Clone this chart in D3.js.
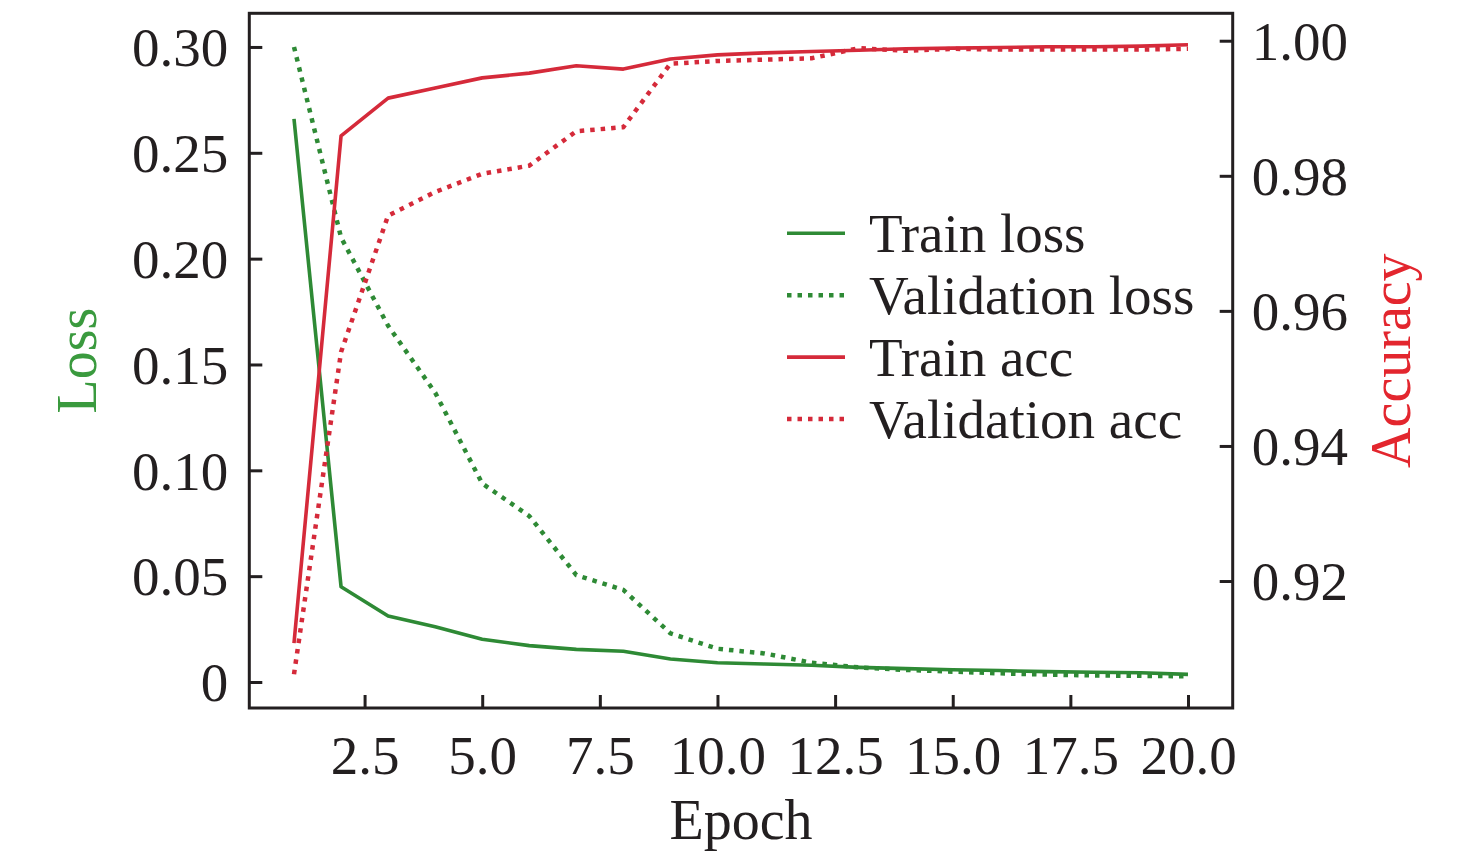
<!DOCTYPE html>
<html>
<head>
<meta charset="utf-8">
<script src="https://cdn.jsdelivr.net/npm/d3@7"></script>
<style>
  html, body { margin: 0; padding: 0; background: #ffffff; }
  svg { display: block; }
  text { font-family: "Liberation Serif", "Times New Roman", serif; fill: #231f20; }
</style>
</head>
<body>
<svg id="chart" width="1476" height="857"></svg>
<script>
// ---- data ----
const epochs = [1, 2, 3, 4, 5, 6, 7, 8, 9, 10, 11, 12, 13, 14, 15, 16, 17, 18, 19, 20];
const trainLoss = [0.266, 0.045, 0.0312, 0.0261, 0.0202, 0.0172, 0.0154, 0.0145, 0.0109, 0.0091,
                   0.0085, 0.0079, 0.0069, 0.0063, 0.0058, 0.0054, 0.0049, 0.0046, 0.0044, 0.0036];
const valLoss = [0.300, 0.210, 0.1683, 0.1367, 0.0938, 0.0784, 0.0505, 0.0435, 0.0230, 0.0157,
                 0.0135, 0.0091, 0.0069, 0.0057, 0.0049, 0.0041, 0.0035, 0.0031, 0.0029, 0.0027];
const trainAcc = [0.9108, 0.9859, 0.9915, 0.9930, 0.9945, 0.9952, 0.9963, 0.9958, 0.9973, 0.9979,
                  0.9982, 0.9984, 0.9986, 0.9988, 0.9989, 0.9990, 0.9991, 0.9991, 0.9992, 0.9994];
const valAcc = [0.9062, 0.9539, 0.9741, 0.9776, 0.9803, 0.9815, 0.9866, 0.9872, 0.9966, 0.9970,
                0.9972, 0.9974, 0.9989, 0.9985, 0.9988, 0.9987, 0.9987, 0.9987, 0.9987, 0.9988];
const xTicks = [2.5, 5.0, 7.5, 10.0, 12.5, 15.0, 17.5, 20.0];
const lossTicks = [0, 0.05, 0.10, 0.15, 0.20, 0.25, 0.30];
const accTicks = [0.92, 0.94, 0.96, 0.98, 1.00];
const legendLabels = ["Train loss", "Validation loss", "Train acc", "Validation acc"];

// ---- layout ----
const GREEN = "#2e8a35";
const RED = "#d52a3a";
const INK = "#231f20";
const box = { left: 249.3, right: 1232.7, top: 13.3, bottom: 708 };
const FS = 55;
const DOTS = "4.5,6";

const svg = d3.select("#chart");

const x = d3.scaleLinear().domain([0.05, 20.95]).range([box.left, box.right]);
const yL = d3.scaleLinear().domain([-0.01228, 0.3159]).range([box.bottom, box.top]);
const yR = d3.scaleLinear().domain([0.90120, 1.00406]).range([box.bottom, box.top]);

// lines
const lossLine = d3.line().x((d, i) => x(epochs[i])).y(d => yL(d));
const accLine = d3.line().x((d, i) => x(epochs[i])).y(d => yR(d));

const plot = svg.append("g");
const series = [
  { data: trainLoss, gen: lossLine, color: GREEN, dash: null },
  { data: valLoss, gen: lossLine, color: GREEN, dash: DOTS },
  { data: trainAcc, gen: accLine, color: RED, dash: null },
  { data: valAcc, gen: accLine, color: RED, dash: DOTS }
];
series.forEach(s => {
  plot.append("path")
    .attr("d", s.gen(s.data))
    .attr("fill", "none")
    .attr("stroke", s.color)
    .attr("stroke-width", s.dash ? 4.5 : 3.6)
    .attr("stroke-dasharray", s.dash)
    .attr("stroke-linejoin", "round");
});

// axes
const bottomAxis = d3.axisBottom(x).tickValues(xTicks).tickSize(-13).tickPadding(27)
  .tickFormat(d3.format(".1f"));
const leftAxis = d3.axisLeft(yL).tickValues(lossTicks).tickSize(-13).tickPadding(21)
  .tickFormat(d => d === 0 ? "0" : d3.format(".2f")(d));
const rightAxis = d3.axisRight(yR).tickValues(accTicks).tickSize(-13).tickPadding(19)
  .tickFormat(d3.format(".2f"));

function styleAxis(g) {
  g.select(".domain").remove();
  g.selectAll(".tick line").attr("stroke", INK).attr("stroke-width", 3);
  g.selectAll(".tick text").attr("fill", INK).attr("font-size", FS)
    .attr("font-family", '"Liberation Serif", "Times New Roman", serif');
}

svg.append("g").attr("transform", `translate(0,${box.bottom})`).call(bottomAxis).call(styleAxis)
  .selectAll(".tick text").attr("dy", "0.71em");
svg.append("g").attr("transform", `translate(${box.left},0)`).call(leftAxis).call(styleAxis)
  .selectAll(".tick text").attr("dy", "0.34em");
svg.append("g").attr("transform", `translate(${box.right},0)`).call(rightAxis).call(styleAxis)
  .selectAll(".tick text").attr("dy", "0.34em");

// frame
svg.append("rect")
  .attr("x", box.left).attr("y", box.top)
  .attr("width", box.right - box.left).attr("height", box.bottom - box.top)
  .attr("fill", "none").attr("stroke", INK).attr("stroke-width", 3);

// axis titles
svg.append("text")
  .attr("x", (box.left + box.right) / 2).attr("y", 839)
  .attr("text-anchor", "middle").attr("font-size", FS + 1)
  .text("Epoch");
svg.append("text")
  .attr("transform", `translate(96,${(box.top + box.bottom) / 2}) rotate(-90)`)
  .attr("text-anchor", "middle").attr("font-size", FS + 1)
  .style("fill", "#3a9a3e")
  .text("Loss");
svg.append("text")
  .attr("transform", `translate(1410,${(box.top + box.bottom) / 2}) rotate(-90)`)
  .attr("text-anchor", "middle").attr("font-size", FS + 1)
  .style("fill", "#e3262e")
  .text("Accuracy");

// legend
const legend = svg.append("g").attr("transform", "translate(787,233.3)");
series.forEach((s, i) => {
  const row = legend.append("g").attr("transform", `translate(0,${i * 61.9})`);
  row.append("line")
    .attr("x1", 0).attr("x2", 58).attr("y1", 0).attr("y2", 0)
    .attr("stroke", s.color)
    .attr("stroke-width", s.dash ? 4.5 : 3.6)
    .attr("stroke-dasharray", s.dash);
  row.append("text")
    .attr("x", 82).attr("y", 18.5)
    .attr("font-size", FS)
    .text(legendLabels[i]);
});
</script>
</body>
</html>
